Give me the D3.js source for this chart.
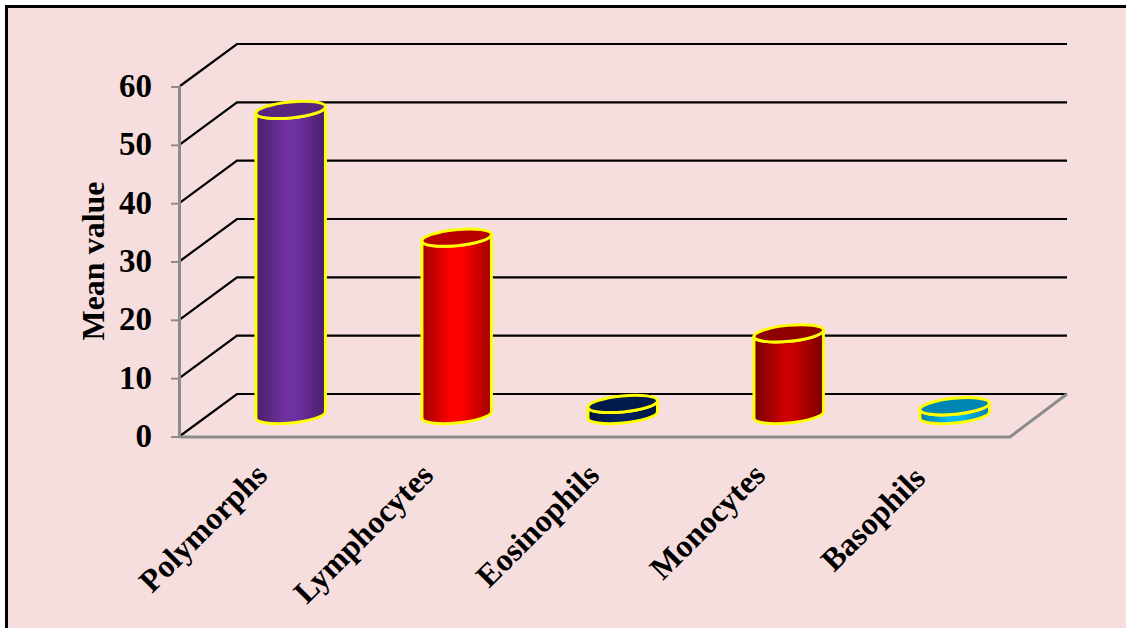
<!DOCTYPE html>
<html><head><meta charset="utf-8">
<style>html,body{margin:0;padding:0;background:#fff}svg{display:block}text{font-family:"Liberation Serif",serif;font-weight:bold;fill:#000}</style>
<script src="https://cdn.jsdelivr.net/npm/d3@7"></script></head><body>
<script>
const categories = ["Polymorphs","Lymphocytes","Eosinophils","Monocytes","Basophils"];
const values = [52.3,30.4,1.9,14,1.5];
const sideCenter = ["#7030a0","#ff0000","#002060","#c80000","#00b8f0"];
const sideEdge = ["#47206a","#a00000","#00143c","#780000","#007fa8"];
const topFill = ["#59267f","#b80000","#001a4c","#8f0000","#0086b4"];
const yTicks = [0,10,20,30,40,50,60];

const W=1126,H=628;
const svg=d3.select("body").append("svg").attr("width",W).attr("height",H);
const defs=svg.append("defs");
svg.append("rect").attr("x",5).attr("y",5).attr("width",W-5).attr("height",H-5).attr("fill","#f6dede");
svg.append("path").attr("d",`M6.5,${H} V6.5 H${W}`).attr("fill","none").attr("stroke","#000").attr("stroke-width",3);

const x=d3.scaleBand().domain(categories).range([180,1010]);
const y=d3.scaleLinear().domain([0,60]).range([436,86]);
const dx=57,dy=-42;

const g=svg.append("g");
yTicks.forEach(t=>{
  g.append("path").attr("d",`M${x.range()[0]},${y(t)} L${x.range()[0]+dx},${y(t)+dy} H${x.range()[1]+dx}`)
   .attr("fill","none").attr("stroke","#000").attr("stroke-width",2.2);
});
g.append("path").attr("d",`M${x.range()[0]},${y(0)+1} H${x.range()[1]} L${x.range()[1]+dx},${y(0)+dy}`)
 .attr("fill","none").attr("stroke","#8c8c8c").attr("stroke-width",3);
g.append("line").attr("x1",x.range()[0]-.5).attr("x2",x.range()[0]-.5).attr("y1",y(60)).attr("y2",y(0)+2).attr("stroke","#8c8c8c").attr("stroke-width",3);
const axis=d3.axisLeft(y).tickValues(yTicks).tickSize(9).tickPadding(19).tickFormat(d3.format("d"));
const ag=svg.append("g").attr("transform",`translate(${x.range()[0]},0.5)`).call(axis);
ag.select(".domain").remove();
ag.selectAll("line").attr("stroke","#8c8c8c").attr("stroke-width",2);
ag.selectAll("text").attr("font-size",33).attr("font-family","Liberation Serif").attr("font-weight","bold").attr("fill","#000").attr("dy","0.3em");
svg.append("text").attr("transform","translate(103.5,261) rotate(-90)").attr("text-anchor","middle").attr("font-size",32).text("Mean value");

const rot=-5.6,t=-rot*Math.PI/180,a=34.9,b=8;
const w=Math.sqrt(a*a*Math.cos(t)**2+b*b*Math.sin(t)**2);
const shift=(a*a-b*b)*Math.sin(t)*Math.cos(t)/w;
categories.forEach((c,i)=>{
  const id="grad"+i;
  const gr=defs.append("linearGradient").attr("id",id);
  [[0,sideEdge[i]],[.42,sideCenter[i]],[.58,sideCenter[i]],[1,sideEdge[i]]].forEach(s=>gr.append("stop").attr("offset",s[0]).attr("stop-color",s[1]));
  const cx=x(c)+x.bandwidth()/2+dx/2-.8;
  const by=y(0)+dy/2, ty=y(values[i])+dy/2;
  const side=`M${cx-w},${ty+shift} L${cx-w},${by+shift} A${a},${b} ${rot} 0 0 ${cx+w},${by-shift} L${cx+w},${ty-shift} A${a},${b} ${rot} 0 1 ${cx-w},${ty+shift} Z`;
  svg.append("path").attr("d",side).attr("fill",`url(#${id})`).attr("stroke","#ffff00").attr("stroke-width",3).attr("stroke-linejoin","round");
  svg.append("ellipse").attr("transform",`translate(${cx},${ty}) rotate(${rot})`).attr("rx",a).attr("ry",b)
     .attr("fill",topFill[i]).attr("stroke","#ffff00").attr("stroke-width",3);
  const nudge = c==="Basophils" ? [-6,3] : [0,0];
  svg.append("text").attr("transform",`translate(${x(c)+x.bandwidth()/2+6+nudge[0]},${477+nudge[1]}) rotate(-45)`).attr("text-anchor","end").attr("font-size",32).text(c);
});
</script></body></html>
